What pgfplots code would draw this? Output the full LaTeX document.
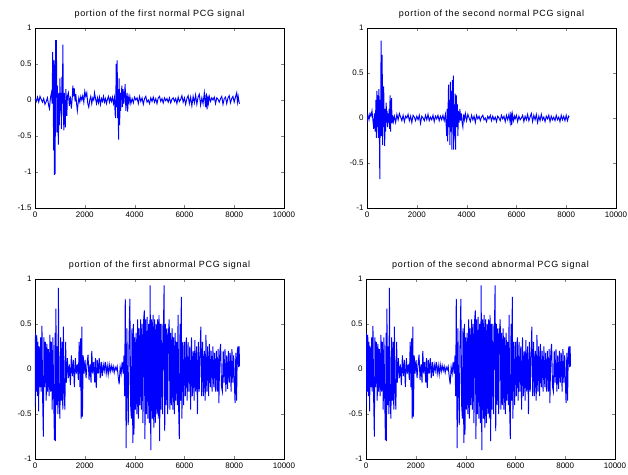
\documentclass[border=0pt]{standalone}
\usepackage{fontspec}
\setmainfont{Liberation Sans}
\usepackage{pgfplots}
\usepackage{pgfplotstable}
\pgfplotsset{compat=1.18}

% first normal PCG portion
\pgfplotstableread{
x y
0 0.02
50 -0.02
100 0.04
150 -0.03
200 0.05
250 0.01
300 -0.03
350 0.02
400 -0.06
450 -0.02
500 0.03
550 -0.08
580 -0.12
620 0.03
660 0.10
690 -0.05
710 0.67
730 0.10
750 -0.70
765 0.55
780 -1.04
800 0.20
810 -1.03
825 0.83
845 0.40
860 0.83
880 -0.45
900 0.20
920 -0.30
940 -0.62
960 0.10
980 -0.35
1000 0.30
1020 -0.15
1040 0.10
1060 -0.40
1080 0.32
1100 -0.05
1120 0.77
1140 -0.20
1160 -0.42
1180 0.10
1200 -0.25
1220 -0.38
1240 0.15
1260 -0.05
1280 -0.22
1300 0.05
1340 0.10
1380 -0.08
1420 0.05
1460 -0.12
1500 0.05
1520 0.20
1550 0.05
1580 0.16
1610 -0.02
1640 0.08
1670 -0.05
1700 -0.15
1730 -0.05
1760 0.03
1800 -0.03
1840 0.05
1880 0.00
1920 0.06
1960 -0.03
2000 0.12
2040 0.05
2080 0.10
2120 -0.05
2160 -0.10
2200 0.00
2240 0.05
2280 -0.05
2320 0.03
2360 0.00
2390 0.10
2430 0.02
2470 -0.05
2510 0.03
2550 -0.04
2590 0.04
2630 -0.06
2670 0.02
2710 -0.02
2750 0.05
2790 -0.03
2830 0.02
2870 -0.05
2910 0.01
2950 0.05
2990 -0.03
3030 0.03
3070 -0.02
3110 0.04
3150 -0.05
3190 0.03
3220 -0.20
3240 -0.25
3260 0.50
3280 -0.10
3300 0.55
3320 -0.25
3340 0.15
3355 -0.55
3380 0.30
3400 -0.35
3420 0.10
3440 -0.15
3460 0.05
3490 0.20
3510 -0.10
3540 0.15
3570 -0.05
3600 0.10
3620 0.22
3650 -0.15
3680 0.05
3700 0.10
3720 -0.16
3750 0.03
3780 -0.03
3810 0.05
3850 -0.05
3900 0.02
3950 -0.04
4000 0.04
4050 0.00
4100 0.03
4150 -0.05
4200 0.05
4250 -0.02
4300 0.03
4350 -0.06
4400 0.02
4450 0.05
4500 -0.03
4550 0.00
4600 -0.05
4650 0.03
4700 -0.02
4750 0.04
4800 -0.03
4850 0.02
4900 -0.05
4950 0.03
5000 0.05
5050 -0.02
5100 0.02
5150 -0.04
5200 0.03
5250 -0.01
5300 0.02
5350 -0.03
5400 0.03
5450 -0.04
5500 0.01
5550 0.03
5600 -0.02
5650 0.02
5700 -0.05
5750 0.04
5800 -0.02
5850 0.01
5900 0.06
5950 -0.03
6000 0.03
6050 -0.06
6100 0.02
6150 0.06
6200 -0.05
6250 0.04
6300 -0.08
6350 0.05
6400 -0.04
6450 0.07
6500 -0.06
6550 0.04
6600 0.08
6650 -0.07
6700 0.03
6750 -0.05
6800 0.10
6850 -0.10
6880 0.09
6910 -0.13
6940 0.06
6970 -0.04
7000 0.05
7050 -0.02
7100 0.03
7150 0.00
7200 0.04
7250 -0.05
7300 0.03
7350 0.01
7400 -0.03
7450 0.02
7500 0.05
7550 -0.06
7600 0.02
7650 0.04
7700 -0.05
7750 0.03
7800 0.06
7850 -0.04
7900 0.02
7950 0.05
8000 -0.03
8050 0.04
8100 0.10
8130 -0.03
8160 0.05
8200 -0.04
8220 -0.05
}\normalone

% second normal PCG portion
\pgfplotstableread{
x y
0 -0.05
40 0.03
80 -0.02
120 0.05
160 0.02
200 0.08
240 -0.03
270 -0.12
300 0.05
330 -0.15
360 0.20
380 -0.22
400 0.30
420 -0.10
440 0.25
460 -0.22
480 0.32
500 -0.25
515 -0.68
530 0.20
550 -0.05
565 0.86
580 -0.20
595 0.40
610 0.70
625 -0.30
640 0.15
655 -0.10
670 0.35
690 -0.05
710 -0.31
730 0.10
750 -0.15
770 0.17
790 -0.05
810 0.08
830 -0.10
850 0.05
870 -0.05
890 0.10
910 -0.12
925 0.25
945 -0.15
965 0.05
985 0.22
1005 -0.06
1030 0.03
1060 -0.04
1100 0.02
1150 -0.05
1200 0.04
1250 -0.02
1300 0.05
1350 0.01
1400 -0.03
1450 0.03
1500 -0.04
1550 0.02
1600 0.00
1650 0.04
1700 -0.03
1750 0.02
1800 -0.05
1850 0.03
1900 0.01
1950 -0.03
2000 0.02
2050 -0.02
2100 0.03
2150 -0.06
2200 0.02
2250 0.00
2300 -0.03
2350 0.03
2400 -0.02
2450 0.04
2500 -0.03
2550 0.01
2600 -0.02
2650 0.03
2700 -0.04
2750 0.02
2800 -0.01
2850 0.03
2900 -0.03
2950 0.02
3000 -0.02
3050 0.03
3100 -0.03
3150 0.04
3180 -0.08
3200 -0.20
3220 0.10
3240 -0.26
3260 0.15
3275 0.37
3290 -0.10
3310 0.20
3330 -0.30
3350 0.40
3370 -0.15
3390 0.30
3410 -0.35
3430 0.42
3450 -0.10
3465 0.47
3480 -0.35
3500 0.15
3520 -0.20
3540 0.27
3555 -0.35
3570 0.10
3590 0.25
3610 -0.10
3630 0.15
3650 -0.20
3670 0.08
3700 -0.05
3730 0.10
3760 -0.03
3790 0.05
3820 -0.05
3850 -0.10
3880 0.04
3910 -0.02
3950 0.05
4000 -0.03
4050 0.04
4100 0.00
4150 -0.04
4200 0.03
4250 -0.02
4300 0.02
4350 -0.05
4400 0.03
4450 -0.01
4500 0.02
4550 -0.03
4600 0.01
4650 0.03
4700 -0.02
4750 0.00
4800 -0.04
4850 0.02
4900 -0.01
4950 0.03
5000 -0.03
5050 0.02
5100 -0.02
5150 0.01
5200 -0.04
5250 0.02
5300 0.00
5350 -0.03
5400 0.03
5450 -0.01
5500 0.02
5550 -0.04
5600 0.03
5650 -0.02
5700 0.04
5750 -0.05
5780 0.07
5810 -0.08
5840 0.04
5880 -0.03
5920 0.02
5950 -0.01
6000 0.03
6050 -0.04
6100 0.02
6150 -0.02
6200 0.00
6250 0.03
6300 -0.04
6350 0.02
6400 -0.02
6450 0.04
6500 -0.03
6550 0.01
6600 0.05
6650 -0.04
6700 0.03
6750 -0.02
6800 0.04
6850 -0.05
6900 0.02
6950 -0.03
7000 0.04
7050 -0.02
7100 0.01
7150 -0.04
7200 0.02
7250 -0.01
7300 0.03
7350 -0.04
7400 0.02
7450 -0.02
7500 0.01
7550 -0.03
7600 0.03
7650 -0.02
7700 0.01
7750 -0.04
7800 0.03
7850 -0.02
7900 0.02
7950 -0.03
8000 0.03
8050 -0.03
8100 0.02
8120 0.01
}\normaltwo

% abnormal PCG portion (both lower panels)
\pgfplotstableread{
x y
0 -0.42
20 0.40
45 -0.25
70 0.38
95 -0.30
120 0.30
145 -0.47
170 0.25
200 -0.20
225 0.35
250 -0.25
280 0.48
305 -0.30
335 -0.75
360 0.35
390 -0.20
420 0.30
450 -0.35
480 0.28
510 -0.25
540 0.22
570 -0.30
600 0.38
630 -0.25
660 0.30
690 -0.45
720 0.35
750 -0.30
780 -0.79
805 0.40
820 -0.80
840 0.67
865 -0.40
895 0.25
920 -0.50
940 0.90
965 -0.30
1000 -0.55
1030 0.35
1060 -0.35
1090 0.30
1115 -0.45
1140 0.47
1170 -0.25
1200 -0.45
1230 0.30
1260 -0.15
1300 0.12
1340 -0.10
1380 0.05
1420 -0.18
1460 0.15
1500 -0.08
1540 0.10
1580 -0.20
1620 0.12
1660 -0.05
1700 0.05
1740 -0.12
1775 0.30
1805 -0.20
1830 0.34
1855 -0.55
1880 0.47
1905 -0.53
1935 0.15
1970 -0.05
2010 0.10
2050 -0.10
2090 0.05
2130 0.16
2170 -0.12
2210 0.05
2250 -0.15
2280 0.20
2320 -0.05
2360 0.08
2400 -0.15
2430 0.12
2460 -0.21
2500 0.10
2540 -0.05
2580 0.12
2620 -0.10
2660 0.08
2700 -0.08
2740 0.05
2780 -0.02
2820 0.08
2860 -0.05
2900 0.04
2940 -0.06
2980 0.05
3020 -0.03
3060 0.04
3100 -0.02
3140 0.03
3180 -0.04
3220 0.02
3260 -0.01
3300 0.03
3340 -0.08
3380 -0.17
3420 0.02
3460 -0.05
3500 0.08
3540 -0.05
3575 0.15
3600 -0.30
3625 0.78
3660 -0.88
3690 0.45
3715 -0.20
3745 -0.62
3775 0.30
3810 0.78
3840 -0.40
3870 -0.55
3895 0.45
3930 -0.82
3955 0.50
3975 -0.73
4005 0.35
4035 -0.45
4065 0.40
4095 -0.50
4125 0.55
4155 -0.55
4185 0.45
4215 -0.40
4245 0.55
4275 -0.45
4305 0.50
4335 -0.60
4365 0.55
4390 0.65
4415 -0.78
4445 0.55
4475 -0.50
4505 0.58
4535 -0.55
4565 0.50
4595 -0.60
4625 0.93
4650 -0.90
4680 0.55
4710 -0.55
4740 0.60
4770 -0.65
4800 0.55
4830 -0.60
4860 0.50
4890 -0.50
4920 0.55
4950 -0.55
4980 0.60
5005 -0.80
5035 0.50
5065 -0.45
5095 0.50
5125 -0.50
5155 0.40
5185 0.93
5210 -0.69
5240 0.50
5270 -0.40
5300 0.45
5330 -0.50
5360 0.40
5390 0.55
5420 -0.45
5450 0.40
5480 -0.40
5510 0.45
5540 -0.45
5570 0.35
5600 -0.50
5630 0.40
5660 -0.35
5690 0.30
5720 -0.40
5745 0.60
5770 -0.45
5795 -0.78
5825 0.50
5850 -0.35
5875 0.80
5900 -0.55
5935 0.30
5970 -0.40
6005 0.30
6040 -0.30
6075 0.35
6110 -0.35
6145 0.30
6180 -0.25
6215 0.25
6250 -0.45
6285 0.35
6320 -0.30
6355 0.20
6390 -0.35
6420 0.32
6455 -0.25
6490 0.25
6525 -0.50
6560 0.30
6595 -0.25
6630 0.20
6660 0.47
6695 -0.30
6730 0.30
6765 -0.30
6800 0.20
6835 -0.35
6865 0.38
6900 -0.25
6935 0.25
6970 -0.30
7005 0.28
7040 -0.20
7075 0.20
7110 -0.25
7145 0.25
7180 -0.20
7215 0.18
7250 -0.25
7285 0.20
7320 -0.25
7355 0.22
7385 -0.38
7420 0.18
7455 0.28
7490 -0.20
7525 -0.25
7560 0.20
7595 -0.15
7630 0.22
7665 -0.25
7700 0.15
7735 -0.22
7770 0.20
7805 -0.15
7840 0.18
7875 -0.25
7910 0.22
7945 -0.15
7980 0.15
8015 -0.22
8035 -0.38
8065 0.18
8095 -0.35
8125 0.20
8150 0.25
8175 0.02
8200 0.25
8210 0.03
}\abnormal

\pgfplotsset{
  pcg/.style={
    scale only axis,
    width=249pt, height=180pt,
    anchor=south west,
    xmin=0, xmax=10000,
    xtick={0,2000,...,10000},
    scaled x ticks=false,
    tick align=inside,
    tick pos=both,
    xticklabel pos=lower,
    yticklabel pos=left,
    major tick length=3pt,
    axis line style={line width=0.6pt},
    /pgf/number format/1000 sep={},
    /pgf/number format/assume math mode=true,
    tick label style={font=\fontsize{8}{9}\selectfont},
    title style={font=\fontsize{9}{10}\selectfont\addfontfeature{LetterSpace=8},
      at={(0.5,1)}, anchor=south, yshift=0pt},
  },
  sig/.style={blue, line width=0.95pt},
}

\begin{document}
\begin{tikzpicture}
\useasboundingbox (0,0) rectangle (628pt,474pt);

\begin{axis}[pcg, at={(35pt,266pt)},
  ymin=-1.5, ymax=1, ytick={-1.5,-1,-0.5,0,0.5,1},
  title={portion of the first normal PCG signal}]
\addplot [sig] table [x=x, y=y] {\normalone};
\end{axis}

\begin{axis}[pcg, at={(367pt,266pt)},
  ymin=-1, ymax=1, ytick={-1,-0.5,0,0.5,1},
  title={portion of the second normal PCG signal}]
\addplot [sig] table [x=x, y=y] {\normaltwo};
\end{axis}

\begin{axis}[pcg, at={(35pt,15pt)},
  ymin=-1, ymax=1, ytick={-1,-0.5,0,0.5,1},
  title={portion of the first abnormal PCG signal}]
\addplot [sig] table [x=x, y=y] {\abnormal};
\end{axis}

\begin{axis}[pcg, at={(366pt,15pt)},
  ymin=-1, ymax=1, ytick={-1,-0.5,0,0.5,1},
  title={portion of the second abnormal PCG signal}]
\addplot [sig] table [x=x, y=y] {\abnormal};
\end{axis}

\end{tikzpicture}
\end{document}
